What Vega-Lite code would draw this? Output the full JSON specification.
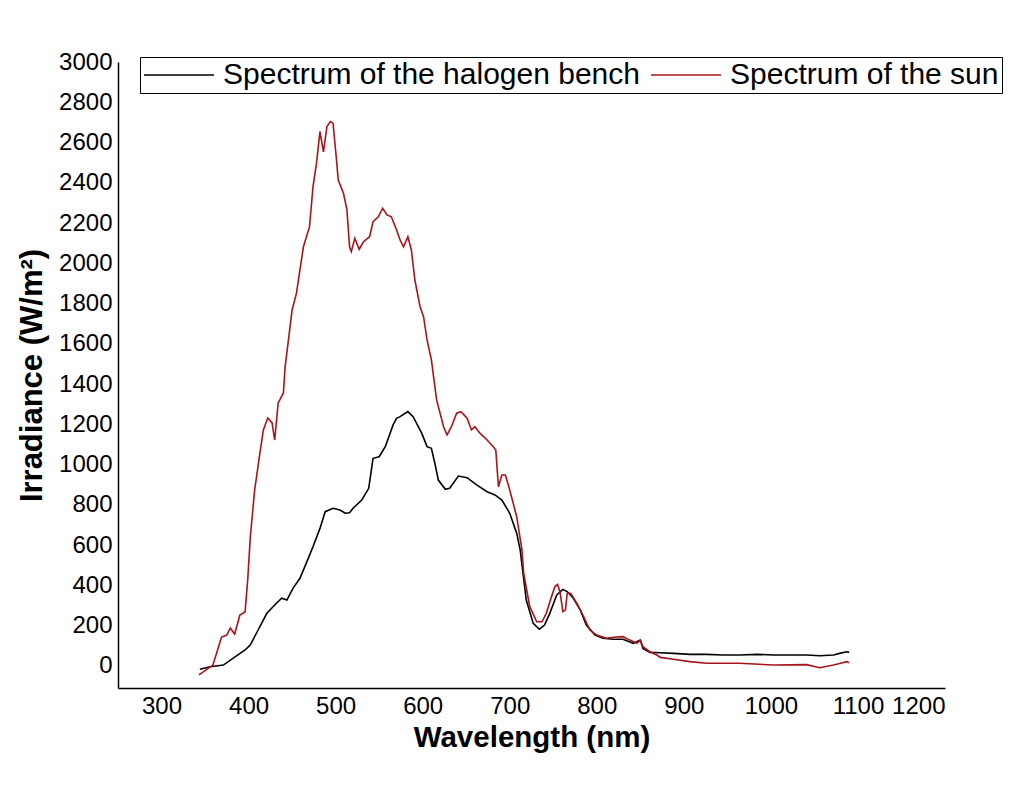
{
  "$schema": "https://vega.github.io/schema/vega-lite/v6.json",
  "width": 827,
  "height": 626,
  "autosize": {"type": "none"},
  "padding": {"left": 118, "top": 62, "right": 69, "bottom": 100},
  "background": "white",
  "config": {"view": {"stroke": null}, "font": "Liberation Sans"},
  "data": {"values": [
    {"series": "Spectrum of the halogen bench", "wavelength": 344, "irradiance": -17},
    {"series": "Spectrum of the halogen bench", "wavelength": 356, "irradiance": -4},
    {"series": "Spectrum of the halogen bench", "wavelength": 371, "irradiance": 4},
    {"series": "Spectrum of the halogen bench", "wavelength": 382, "irradiance": 37},
    {"series": "Spectrum of the halogen bench", "wavelength": 396, "irradiance": 79},
    {"series": "Spectrum of the halogen bench", "wavelength": 402, "irradiance": 104},
    {"series": "Spectrum of the halogen bench", "wavelength": 409, "irradiance": 162},
    {"series": "Spectrum of the halogen bench", "wavelength": 421, "irradiance": 261},
    {"series": "Spectrum of the halogen bench", "wavelength": 432, "irradiance": 311},
    {"series": "Spectrum of the halogen bench", "wavelength": 438, "irradiance": 336},
    {"series": "Spectrum of the halogen bench", "wavelength": 444, "irradiance": 327},
    {"series": "Spectrum of the halogen bench", "wavelength": 451, "irradiance": 385},
    {"series": "Spectrum of the halogen bench", "wavelength": 459, "irradiance": 435},
    {"series": "Spectrum of the halogen bench", "wavelength": 467, "irradiance": 518},
    {"series": "Spectrum of the halogen bench", "wavelength": 474, "irradiance": 592},
    {"series": "Spectrum of the halogen bench", "wavelength": 482, "irradiance": 683},
    {"series": "Spectrum of the halogen bench", "wavelength": 488, "irradiance": 766},
    {"series": "Spectrum of the halogen bench", "wavelength": 497, "irradiance": 783},
    {"series": "Spectrum of the halogen bench", "wavelength": 505, "irradiance": 774},
    {"series": "Spectrum of the halogen bench", "wavelength": 511, "irradiance": 758},
    {"series": "Spectrum of the halogen bench", "wavelength": 516, "irradiance": 761},
    {"series": "Spectrum of the halogen bench", "wavelength": 520, "irradiance": 783},
    {"series": "Spectrum of the halogen bench", "wavelength": 530, "irradiance": 824},
    {"series": "Spectrum of the halogen bench", "wavelength": 538, "irradiance": 882},
    {"series": "Spectrum of the halogen bench", "wavelength": 543, "irradiance": 1031},
    {"series": "Spectrum of the halogen bench", "wavelength": 550, "irradiance": 1039},
    {"series": "Spectrum of the halogen bench", "wavelength": 557, "irradiance": 1089},
    {"series": "Spectrum of the halogen bench", "wavelength": 566, "irradiance": 1197},
    {"series": "Spectrum of the halogen bench", "wavelength": 570, "irradiance": 1230},
    {"series": "Spectrum of the halogen bench", "wavelength": 574, "irradiance": 1238},
    {"series": "Spectrum of the halogen bench", "wavelength": 583, "irradiance": 1263},
    {"series": "Spectrum of the halogen bench", "wavelength": 589, "irradiance": 1238},
    {"series": "Spectrum of the halogen bench", "wavelength": 599, "irradiance": 1155},
    {"series": "Spectrum of the halogen bench", "wavelength": 605, "irradiance": 1089},
    {"series": "Spectrum of the halogen bench", "wavelength": 610, "irradiance": 1081},
    {"series": "Spectrum of the halogen bench", "wavelength": 614, "irradiance": 1006},
    {"series": "Spectrum of the halogen bench", "wavelength": 618, "irradiance": 923},
    {"series": "Spectrum of the halogen bench", "wavelength": 626, "irradiance": 877},
    {"series": "Spectrum of the halogen bench", "wavelength": 631, "irradiance": 882},
    {"series": "Spectrum of the halogen bench", "wavelength": 641, "irradiance": 943},
    {"series": "Spectrum of the halogen bench", "wavelength": 651, "irradiance": 935},
    {"series": "Spectrum of the halogen bench", "wavelength": 662, "irradiance": 899},
    {"series": "Spectrum of the halogen bench", "wavelength": 674, "irradiance": 865},
    {"series": "Spectrum of the halogen bench", "wavelength": 683, "irradiance": 849},
    {"series": "Spectrum of the halogen bench", "wavelength": 691, "irradiance": 824},
    {"series": "Spectrum of the halogen bench", "wavelength": 700, "irradiance": 758},
    {"series": "Spectrum of the halogen bench", "wavelength": 708, "irradiance": 659},
    {"series": "Spectrum of the halogen bench", "wavelength": 712, "irradiance": 576},
    {"series": "Spectrum of the halogen bench", "wavelength": 719, "irradiance": 327},
    {"series": "Spectrum of the halogen bench", "wavelength": 727, "irradiance": 211},
    {"series": "Spectrum of the halogen bench", "wavelength": 734, "irradiance": 182},
    {"series": "Spectrum of the halogen bench", "wavelength": 740, "irradiance": 203},
    {"series": "Spectrum of the halogen bench", "wavelength": 746, "irradiance": 261},
    {"series": "Spectrum of the halogen bench", "wavelength": 754, "irradiance": 352},
    {"series": "Spectrum of the halogen bench", "wavelength": 761, "irradiance": 380},
    {"series": "Spectrum of the halogen bench", "wavelength": 766, "irradiance": 369},
    {"series": "Spectrum of the halogen bench", "wavelength": 773, "irradiance": 336},
    {"series": "Spectrum of the halogen bench", "wavelength": 781, "irradiance": 278},
    {"series": "Spectrum of the halogen bench", "wavelength": 788, "irradiance": 203},
    {"series": "Spectrum of the halogen bench", "wavelength": 798, "irradiance": 153},
    {"series": "Spectrum of the halogen bench", "wavelength": 807, "irradiance": 137},
    {"series": "Spectrum of the halogen bench", "wavelength": 819, "irradiance": 132},
    {"series": "Spectrum of the halogen bench", "wavelength": 830, "irradiance": 132},
    {"series": "Spectrum of the halogen bench", "wavelength": 842, "irradiance": 112},
    {"series": "Spectrum of the halogen bench", "wavelength": 850, "irradiance": 128},
    {"series": "Spectrum of the halogen bench", "wavelength": 853, "irradiance": 87},
    {"series": "Spectrum of the halogen bench", "wavelength": 861, "irradiance": 67},
    {"series": "Spectrum of the halogen bench", "wavelength": 873, "irradiance": 65},
    {"series": "Spectrum of the halogen bench", "wavelength": 888, "irradiance": 62},
    {"series": "Spectrum of the halogen bench", "wavelength": 907, "irradiance": 57},
    {"series": "Spectrum of the halogen bench", "wavelength": 926, "irradiance": 57},
    {"series": "Spectrum of the halogen bench", "wavelength": 945, "irradiance": 54},
    {"series": "Spectrum of the halogen bench", "wavelength": 964, "irradiance": 54},
    {"series": "Spectrum of the halogen bench", "wavelength": 984, "irradiance": 57},
    {"series": "Spectrum of the halogen bench", "wavelength": 1003, "irradiance": 54},
    {"series": "Spectrum of the halogen bench", "wavelength": 1022, "irradiance": 54},
    {"series": "Spectrum of the halogen bench", "wavelength": 1041, "irradiance": 54},
    {"series": "Spectrum of the halogen bench", "wavelength": 1056, "irradiance": 50},
    {"series": "Spectrum of the halogen bench", "wavelength": 1072, "irradiance": 54},
    {"series": "Spectrum of the halogen bench", "wavelength": 1079, "irradiance": 62},
    {"series": "Spectrum of the halogen bench", "wavelength": 1087, "irradiance": 70},
    {"series": "Spectrum of the halogen bench", "wavelength": 1090, "irradiance": 67},
    {"series": "Spectrum of the sun", "wavelength": 343, "irradiance": -45},
    {"series": "Spectrum of the sun", "wavelength": 359, "irradiance": 4},
    {"series": "Spectrum of the sun", "wavelength": 369, "irradiance": 143},
    {"series": "Spectrum of the sun", "wavelength": 375, "irradiance": 153},
    {"series": "Spectrum of the sun", "wavelength": 379, "irradiance": 188},
    {"series": "Spectrum of the sun", "wavelength": 384, "irradiance": 158},
    {"series": "Spectrum of the sun", "wavelength": 390, "irradiance": 253},
    {"series": "Spectrum of the sun", "wavelength": 396, "irradiance": 268},
    {"series": "Spectrum of the sun", "wavelength": 399, "irradiance": 427},
    {"series": "Spectrum of the sun", "wavelength": 402, "irradiance": 640},
    {"series": "Spectrum of the sun", "wavelength": 407, "irradiance": 874},
    {"series": "Spectrum of the sun", "wavelength": 413, "irradiance": 1057},
    {"series": "Spectrum of the sun", "wavelength": 417, "irradiance": 1172},
    {"series": "Spectrum of the sun", "wavelength": 422, "irradiance": 1231},
    {"series": "Spectrum of the sun", "wavelength": 427, "irradiance": 1207},
    {"series": "Spectrum of the sun", "wavelength": 430, "irradiance": 1122},
    {"series": "Spectrum of the sun", "wavelength": 434, "irradiance": 1306},
    {"series": "Spectrum of the sun", "wavelength": 440, "irradiance": 1356},
    {"series": "Spectrum of the sun", "wavelength": 442, "irradiance": 1486},
    {"series": "Spectrum of the sun", "wavelength": 450, "irradiance": 1768},
    {"series": "Spectrum of the sun", "wavelength": 455, "irradiance": 1852},
    {"series": "Spectrum of the sun", "wavelength": 463, "irradiance": 2082},
    {"series": "Spectrum of the sun", "wavelength": 470, "irradiance": 2182},
    {"series": "Spectrum of the sun", "wavelength": 474, "irradiance": 2380},
    {"series": "Spectrum of the sun", "wavelength": 478, "irradiance": 2497},
    {"series": "Spectrum of the sun", "wavelength": 482, "irradiance": 2654},
    {"series": "Spectrum of the sun", "wavelength": 486, "irradiance": 2554},
    {"series": "Spectrum of the sun", "wavelength": 490, "irradiance": 2679},
    {"series": "Spectrum of the sun", "wavelength": 494, "irradiance": 2704},
    {"series": "Spectrum of the sun", "wavelength": 497, "irradiance": 2696},
    {"series": "Spectrum of the sun", "wavelength": 501, "irradiance": 2513},
    {"series": "Spectrum of the sun", "wavelength": 503, "irradiance": 2414},
    {"series": "Spectrum of the sun", "wavelength": 509, "irradiance": 2348},
    {"series": "Spectrum of the sun", "wavelength": 513, "irradiance": 2265},
    {"series": "Spectrum of the sun", "wavelength": 516, "irradiance": 2082},
    {"series": "Spectrum of the sun", "wavelength": 518, "irradiance": 2058},
    {"series": "Spectrum of the sun", "wavelength": 522, "irradiance": 2124},
    {"series": "Spectrum of the sun", "wavelength": 527, "irradiance": 2069},
    {"series": "Spectrum of the sun", "wavelength": 532, "irradiance": 2107},
    {"series": "Spectrum of the sun", "wavelength": 539, "irradiance": 2132},
    {"series": "Spectrum of the sun", "wavelength": 543, "irradiance": 2207},
    {"series": "Spectrum of the sun", "wavelength": 549, "irradiance": 2231},
    {"series": "Spectrum of the sun", "wavelength": 554, "irradiance": 2273},
    {"series": "Spectrum of the sun", "wavelength": 559, "irradiance": 2240},
    {"series": "Spectrum of the sun", "wavelength": 564, "irradiance": 2231},
    {"series": "Spectrum of the sun", "wavelength": 570, "irradiance": 2165},
    {"series": "Spectrum of the sun", "wavelength": 574, "irradiance": 2116},
    {"series": "Spectrum of the sun", "wavelength": 578, "irradiance": 2082},
    {"series": "Spectrum of the sun", "wavelength": 583, "irradiance": 2132},
    {"series": "Spectrum of the sun", "wavelength": 587, "irradiance": 2066},
    {"series": "Spectrum of the sun", "wavelength": 591, "irradiance": 1917},
    {"series": "Spectrum of the sun", "wavelength": 597, "irradiance": 1784},
    {"series": "Spectrum of the sun", "wavelength": 601, "irradiance": 1735},
    {"series": "Spectrum of the sun", "wavelength": 605, "irradiance": 1619},
    {"series": "Spectrum of the sun", "wavelength": 610, "irradiance": 1520},
    {"series": "Spectrum of the sun", "wavelength": 616, "irradiance": 1321},
    {"series": "Spectrum of the sun", "wavelength": 624, "irradiance": 1188},
    {"series": "Spectrum of the sun", "wavelength": 628, "irradiance": 1147},
    {"series": "Spectrum of the sun", "wavelength": 633, "irradiance": 1188},
    {"series": "Spectrum of the sun", "wavelength": 639, "irradiance": 1255},
    {"series": "Spectrum of the sun", "wavelength": 644, "irradiance": 1263},
    {"series": "Spectrum of the sun", "wavelength": 651, "irradiance": 1230},
    {"series": "Spectrum of the sun", "wavelength": 656, "irradiance": 1172},
    {"series": "Spectrum of the sun", "wavelength": 660, "irradiance": 1188},
    {"series": "Spectrum of the sun", "wavelength": 666, "irradiance": 1155},
    {"series": "Spectrum of the sun", "wavelength": 674, "irradiance": 1122},
    {"series": "Spectrum of the sun", "wavelength": 681, "irradiance": 1089},
    {"series": "Spectrum of the sun", "wavelength": 684, "irradiance": 1072},
    {"series": "Spectrum of the sun", "wavelength": 687, "irradiance": 890},
    {"series": "Spectrum of the sun", "wavelength": 691, "irradiance": 948},
    {"series": "Spectrum of the sun", "wavelength": 695, "irradiance": 948},
    {"series": "Spectrum of the sun", "wavelength": 700, "irradiance": 874},
    {"series": "Spectrum of the sun", "wavelength": 708, "irradiance": 741},
    {"series": "Spectrum of the sun", "wavelength": 714, "irradiance": 576},
    {"series": "Spectrum of the sun", "wavelength": 716, "irradiance": 460},
    {"series": "Spectrum of the sun", "wavelength": 723, "irradiance": 294},
    {"series": "Spectrum of the sun", "wavelength": 731, "irradiance": 219},
    {"series": "Spectrum of the sun", "wavelength": 737, "irradiance": 219},
    {"series": "Spectrum of the sun", "wavelength": 742, "irradiance": 261},
    {"series": "Spectrum of the sun", "wavelength": 748, "irradiance": 344},
    {"series": "Spectrum of the sun", "wavelength": 752, "irradiance": 394},
    {"series": "Spectrum of the sun", "wavelength": 755, "irradiance": 405},
    {"series": "Spectrum of the sun", "wavelength": 758, "irradiance": 361},
    {"series": "Spectrum of the sun", "wavelength": 761, "irradiance": 269},
    {"series": "Spectrum of the sun", "wavelength": 764, "irradiance": 278},
    {"series": "Spectrum of the sun", "wavelength": 766, "irradiance": 361},
    {"series": "Spectrum of the sun", "wavelength": 770, "irradiance": 361},
    {"series": "Spectrum of the sun", "wavelength": 777, "irradiance": 311},
    {"series": "Spectrum of the sun", "wavelength": 785, "irradiance": 244},
    {"series": "Spectrum of the sun", "wavelength": 792, "irradiance": 178},
    {"series": "Spectrum of the sun", "wavelength": 800, "irradiance": 153},
    {"series": "Spectrum of the sun", "wavelength": 811, "irradiance": 137},
    {"series": "Spectrum of the sun", "wavelength": 819, "irradiance": 142},
    {"series": "Spectrum of the sun", "wavelength": 830, "irradiance": 145},
    {"series": "Spectrum of the sun", "wavelength": 838, "irradiance": 128},
    {"series": "Spectrum of the sun", "wavelength": 846, "irradiance": 112},
    {"series": "Spectrum of the sun", "wavelength": 850, "irradiance": 128},
    {"series": "Spectrum of the sun", "wavelength": 853, "irradiance": 95},
    {"series": "Spectrum of the sun", "wavelength": 861, "irradiance": 70},
    {"series": "Spectrum of the sun", "wavelength": 869, "irradiance": 54},
    {"series": "Spectrum of the sun", "wavelength": 873, "irradiance": 42},
    {"series": "Spectrum of the sun", "wavelength": 888, "irradiance": 33},
    {"series": "Spectrum of the sun", "wavelength": 907, "irradiance": 21},
    {"series": "Spectrum of the sun", "wavelength": 926, "irradiance": 13},
    {"series": "Spectrum of the sun", "wavelength": 964, "irradiance": 13},
    {"series": "Spectrum of the sun", "wavelength": 1003, "irradiance": 4},
    {"series": "Spectrum of the sun", "wavelength": 1041, "irradiance": 6},
    {"series": "Spectrum of the sun", "wavelength": 1056, "irradiance": -9},
    {"series": "Spectrum of the sun", "wavelength": 1072, "irradiance": 4},
    {"series": "Spectrum of the sun", "wavelength": 1079, "irradiance": 12},
    {"series": "Spectrum of the sun", "wavelength": 1087, "irradiance": 21},
    {"series": "Spectrum of the sun", "wavelength": 1090, "irradiance": 16}
  ]},
  "mark": {"type": "line", "strokeWidth": 1.6},
  "encoding": {
    "x": {
      "field": "wavelength", "type": "quantitative",
      "scale": {"domain": [250, 1200], "nice": false, "zero": false},
      "axis": {
        "values": [300, 400, 500, 600, 700, 800, 900, 1000, 1100, 1200],
        "format": "d", "title": "Wavelength (nm)", "grid": false, "ticks": false,
        "domainColor": "#000000", "domainWidth": 1.5,
        "labelFontSize": 24, "labelColor": "#000000", "labelPadding": 6,
        "titleFontSize": 29.5, "titleFontWeight": "bold", "titleColor": "#000000", "titlePadding": 5
      }
    },
    "y": {
      "field": "irradiance", "type": "quantitative",
      "scale": {"domain": [-110, 3000], "nice": false, "zero": false},
      "axis": {
        "values": [0, 200, 400, 600, 800, 1000, 1200, 1400, 1600, 1800, 2000, 2200, 2400, 2600, 2800, 3000],
        "format": "d", "title": "Irradiance (W/m²)", "grid": false, "ticks": false,
        "domainColor": "#000000", "domainWidth": 1.5,
        "labelFontSize": 24, "labelColor": "#000000", "labelPadding": 6,
        "titleFontSize": 31, "titleFontWeight": "bold", "titleColor": "#000000", "titlePadding": 10
      }
    },
    "color": {
      "field": "series", "type": "nominal",
      "scale": {"domain": ["Spectrum of the halogen bench", "Spectrum of the sun"], "range": ["#000000", "#a8141c"]},
      "legend": {
        "orient": "none", "legendX": 22, "legendY": -5, "direction": "horizontal", "title": null,
        "symbolType": "stroke", "symbolSize": 4900, "symbolStrokeWidth": 1.5, "clipHeight": 30,
        "labelFontSize": 30, "labelColor": "#000000", "labelOffset": 8, "columnPadding": 10, "labelLimit": 0,
        "strokeColor": "#000000", "fillColor": "#ffffff", "padding": 3
      }
    }
  }
}
